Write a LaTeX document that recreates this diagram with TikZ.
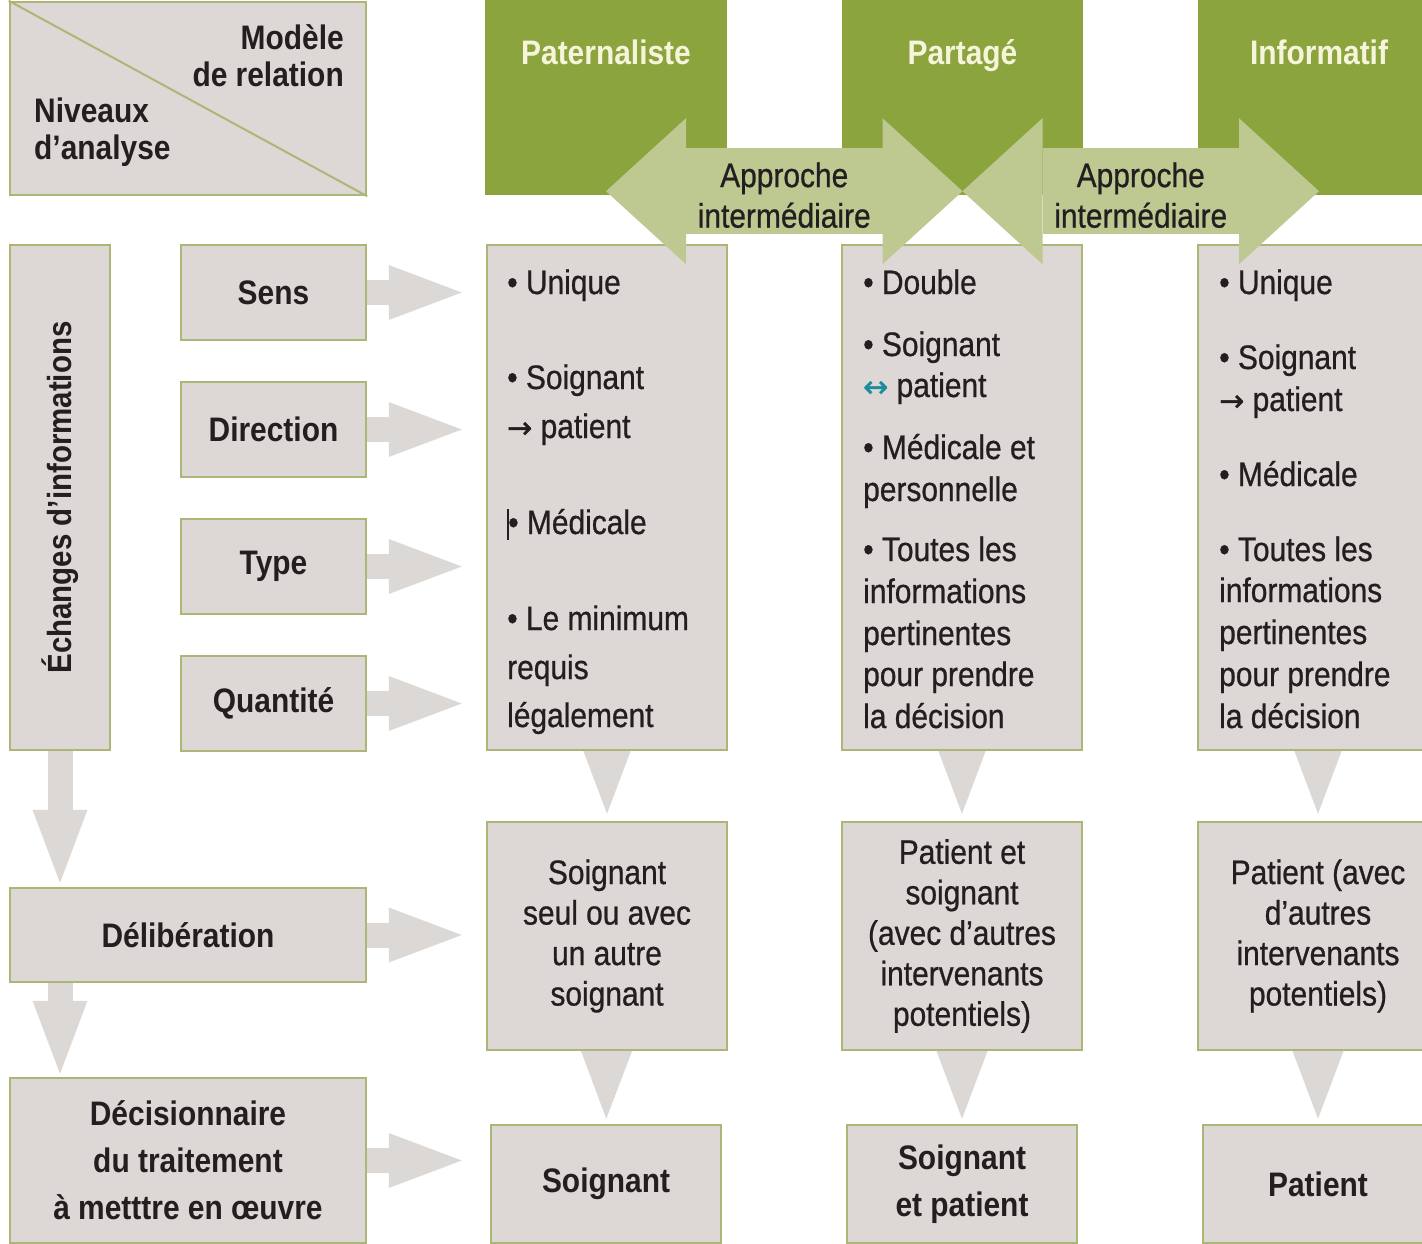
\documentclass[tikz,border=0pt]{standalone}
\usepackage{fontspec}
\setmainfont{Liberation Sans}[FakeStretch=0.88, UprightFeatures={FakeBold=0.7}]
\newfontfamily\symb{DejaVu Sans}[FakeBold=1.2]
\usetikzlibrary{arrows.meta,backgrounds}

\definecolor{boxfill}{RGB}{221,216,213}
\definecolor{boxline}{RGB}{172,182,118}
\definecolor{hgreen}{RGB}{139,164,62}
\definecolor{apgreen}{RGB}{190,201,146}
\definecolor{arrowgray}{RGB}{220,216,213}
\definecolor{txt}{RGB}{35,31,32}
\definecolor{htxt}{RGB}{246,245,220}
\definecolor{bleu}{RGB}{30,140,155}

\tikzset{
  box/.style={draw=boxline, fill=boxfill, line width=2.5pt, inner sep=0pt, text=txt, align=center},
  head/.style={fill=hgreen, inner sep=0pt},
  lbl/.style={inner sep=0pt, text=txt, font=\bfseries\fontsize{34}{47}\selectfont},
  htitle/.style={inner sep=0pt, text=htxt, text height=25pt, text depth=7pt, font=\bfseries\fontsize{34}{40}\selectfont},
  itm/.style={anchor=west, inner sep=0pt, text=txt, text height=26pt, text depth=4pt},
  flow/.style={draw=arrowgray, line width=25pt, -{Triangle[length=73pt,width=55pt,line width=0pt]}},
  approach/.style={draw=apgreen, line width=86pt,
    {Triangle[length=80pt,width=146pt,line width=0pt]}-{Triangle[length=80pt,width=146pt,line width=0pt]}},
}

\begin{document}
\begin{tikzpicture}[x=1pt, y=-1pt, font=\fontsize{34}{40.5}\selectfont]
\path[use as bounding box, clip] (0,0) rectangle (1422,1243);

% coin
\node(coin)[box, minimum width=356pt, minimum height=193pt] at (188,98.5) {};
\draw[draw=boxline, line width=2pt] (coin.north west) -- (coin.south east);
\node(modele)[lbl, anchor=east, align=right, font=\bfseries\fontsize{34}{37}\selectfont] at (344,56) {Modèle\\de relation};
\node(niveaux)[lbl, anchor=west, align=left, font=\bfseries\fontsize{34}{37}\selectfont] at (34,132) {Niveaux\\d'analyse};

% modeles
\node(hpat)[head, minimum width=242pt, minimum height=197pt] at (606,96.5) {};
\node(hpar)[head, minimum width=241pt, minimum height=197pt] at (962.5,96.5) {};
\node(hinf)[head, minimum width=242pt, minimum height=197pt] at (1319,96.5) {};
\node(tpat)[htitle] at (606,55) {Paternaliste};
\node(tpar)[htitle] at (962.5,55) {Partagé};
\node(tinf)[htitle] at (1319,55) {Informatif};

% niveaux d'analyse
\node(echanges)[box, minimum width=100pt, minimum height=505pt] at (60,497.5) {};
\node(techanges)[lbl, rotate=90, font=\bfseries\fontsize{33.5}{38}\selectfont] at (60,497.5) {Échanges d'informations};
\node(sens)[box, lbl, minimum width=185pt, minimum height=95pt] at (273.5,292.5) {Sens};
\node(direction)[box, lbl, minimum width=185pt, minimum height=95pt] at (273.5,429.5) {Direction};
\node(type)[box, lbl, minimum width=185pt, minimum height=95pt] at (273.5,566.5) {Type};
\node(quantite)[box, lbl, minimum width=185pt, minimum height=95pt] at (273.5,703.5) {Quantité};
\node(delib)[box, lbl, minimum width=356pt, minimum height=94pt] at (188,935) {Délibération};
\node(decis)[box, lbl, minimum width=356pt, minimum height=165pt] at (188,1160.5) {Décisionnaire\\du traitement\\à metttre en œuvre};

% colonnes
\node(pat)[box, minimum width=240pt, minimum height=505pt] at (607,497.5) {};
\node(par)[box, minimum width=240pt, minimum height=505pt] at (962,497.5) {};
\node(inf)[box, minimum width=240pt, minimum height=505pt] at (1318,497.5) {};

\node(pat1)[itm] at (507,283) {• Unique};
\node(pat2)[itm] at (507,378) {• Soignant};
\node(pat3)[itm] at (507,427) {{\symb\fontsize{30}{30}\selectfont →} patient};
\node(pat4)[itm] at (507,523) {\rule[-6pt]{2pt}{31pt}\kern-1pt• Médicale};
\node(pat5)[itm] at (507,619) {• Le minimum};
\node(pat6)[itm] at (507,668) {requis};
\node(pat7)[itm] at (507,716) {légalement};

\node(par1)[itm] at (863,283) {• Double};
\node(par2)[itm] at (863,345) {• Soignant};
\node(par3)[itm] at (863,386) {{\symb\fontsize{30}{30}\selectfont\color{bleu}↔} patient};
\node(par4)[itm] at (863,448) {• Médicale et};
\node(par5)[itm] at (863,490) {personnelle};
\node(par6)[itm] at (863,550) {• Toutes les};
\node(par7)[itm] at (863,592) {informations};
\node(par8)[itm] at (863,634) {pertinentes};
\node(par9)[itm] at (863,675) {pour prendre};
\node(par10)[itm] at (863,717) {la décision};

\node(inf1)[itm] at (1219,283) {• Unique};
\node(inf2)[itm] at (1219,358) {• Soignant};
\node(inf3)[itm] at (1219,400) {{\symb\fontsize{30}{30}\selectfont →} patient};
\node(inf4)[itm] at (1219,475) {• Médicale};
\node(inf5)[itm] at (1219,550) {• Toutes les};
\node(inf6)[itm] at (1219,591) {informations};
\node(inf7)[itm] at (1219,633) {pertinentes};
\node(inf8)[itm] at (1219,675) {pour prendre};
\node(inf9)[itm] at (1219,717) {la décision};

\node(patdel)[box, minimum width=240pt, minimum height=228pt] at (607,936) {Soignant\\seul ou avec\\un autre\\soignant};
\node(pardel)[box, minimum width=240pt, minimum height=228pt] at (962,936) {Patient et\\soignant\\(avec d'autres\\intervenants\\potentiels)};
\node(infdel)[box, minimum width=240pt, minimum height=228pt] at (1318,936) {Patient (avec\\d'autres\\intervenants\\potentiels)};

\node(patdec)[box, lbl, minimum width=230pt, minimum height=118pt] at (606,1184) {Soignant};
\node(pardec)[box, lbl, minimum width=230pt, minimum height=118pt] at (962,1184) {Soignant\\et patient};
\node(infdec)[box, lbl, minimum width=230pt, minimum height=118pt] at (1318,1184) {Patient};

% approches intermediaires
\draw[approach] ([yshift=4pt]hpat.south) -- node(app1)[inner sep=0pt, text=txt, align=center, yshift=-4pt]{Approche\\intermédiaire} ([yshift=4pt]hpar.south);
\draw[approach] ([yshift=4pt]hpar.south) -- node(app2)[inner sep=0pt, text=txt, align=center, yshift=-4pt]{Approche\\intermédiaire} ([yshift=4pt]hinf.south);

% fleches
\begin{scope}[on background layer]
\draw[flow, shorten >=24pt] (sens) -- (pat.west |- sens);
\draw[flow, shorten >=24pt] (direction) -- (pat.west |- direction);
\draw[flow, shorten >=24pt] (type) -- (pat.west |- type);
\draw[flow, shorten >=24pt] (quantite) -- (pat.west |- quantite);
\draw[flow, shorten >=24pt] (delib) -- (pat.west |- delib);
\draw[flow, shorten >=24pt] (decis) -- (pat.west |- decis);
\draw[flow, shorten >=4pt] (echanges) -- (delib.north -| echanges);
\draw[flow, shorten >=3pt] (delib.south -| echanges) -- (decis.north -| echanges);

\draw[flow, shorten >=7pt] (pat.center) -- (patdel);
\draw[flow, shorten >=7pt] (par.center) -- (pardel);
\draw[flow, shorten >=7pt] (inf.center) -- (infdel);
\draw[flow, shorten >=5pt] (patdel.center) -- (patdec);
\draw[flow, shorten >=5pt] (pardel.center) -- (pardec);
\draw[flow, shorten >=5pt] (infdel.center) -- (infdec);
\end{scope}
\end{tikzpicture}
\end{document}
